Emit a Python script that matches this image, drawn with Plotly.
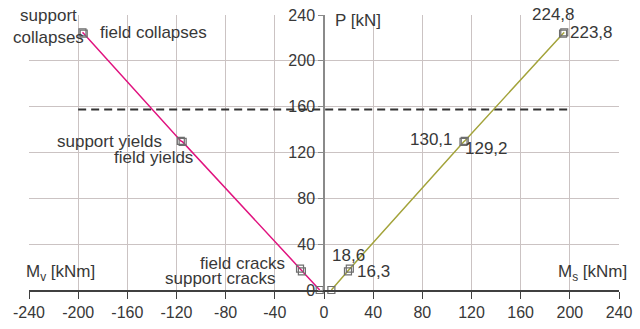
import plotly.graph_objects as go

# ---- data ----
P = [0, 16.3, 18.6, 129.2, 130.1, 223.8, 224.8]          # load [kN]
Mv = [-3.5, -18, -19.5, -115, -116.5, -195.5, -196.5]     # support moment [kNm]
Ms = [6, 19.5, 21, 113.5, 114.5, 194.5, 195.5]            # field moment [kNm]
left_labels = ["", "support cracks", "field cracks", "field yields",
               "support yields", "field collapses", "support<br>collapses"]
right_labels = [("" if p == 0 else f"{p:.1f}".replace(".", ",")) for p in P]
limit_x = [-200, 200]
limit_P = [157.5, 157.5]
x_ticks = [-240, -200, -160, -120, -80, -40, 0, 40, 80, 120, 160, 200, 240]
y_ticks = [0, 40, 80, 120, 160, 200, 240]

# ---- label placement (pixels) ----
left_pos = [None,
            dict(xanchor="right", yanchor="middle", xshift=-24, yshift=-7),
            dict(xanchor="right", yanchor="middle", xshift=-13, yshift=5),
            dict(xanchor="right", yanchor="middle", xshift=12, yshift=-16),
            dict(xanchor="right", yanchor="middle", xshift=-17, yshift=-1),
            dict(xanchor="left", yanchor="middle", xshift=14, yshift=1),
            dict(xanchor="center", yanchor="middle", xshift=-34, yshift=6)]
right_pos = [None,
             dict(xanchor="left", yanchor="middle", xshift=7, yshift=0),
             dict(xanchor="center", yanchor="middle", xshift=-1, yshift=13),
             dict(xanchor="left", yanchor="middle", xshift=-1, yshift=-7),
             dict(xanchor="right", yanchor="middle", xshift=-10, yshift=1.5),
             dict(xanchor="left", yanchor="middle", xshift=5, yshift=1),
             dict(xanchor="center", yanchor="middle", xshift=-11, yshift=18)]

FONT = "Liberation Sans, Arial, sans-serif"
TXT = "#383838"
GRID = "#cbc3c3"
AF = dict(size=17, color=TXT, family=FONT)

fig = go.Figure()
fig.add_trace(go.Scatter(x=limit_x, y=limit_P, mode="lines",
                         line=dict(color="#333333", width=2, dash="8px,5px"),
                         hoverinfo="skip", showlegend=False))
fig.add_trace(go.Scatter(x=Mv, y=P, mode="lines+markers",
                         line=dict(color="#e0137f", width=1.5),
                         marker=dict(symbol="square-open", size=7, color="#6e6e6e",
                                     line=dict(width=1.2)),
                         showlegend=False, cliponaxis=False))
fig.add_trace(go.Scatter(x=Ms, y=P, mode="lines+markers",
                         line=dict(color="#a3a33a", width=1.5),
                         marker=dict(symbol="square-open", size=7, color="#6e6e6e",
                                     line=dict(width=1.2)),
                         showlegend=False, cliponaxis=False))

annotations = []
for xs, labels, pos in ((Mv, left_labels, left_pos), (Ms, right_labels, right_pos)):
    for xv, pv, lab, ps in zip(xs, P, labels, pos):
        if not lab:
            continue
        annotations.append(dict(x=xv, y=pv, xref="x", yref="y", text=lab,
                                showarrow=False, font=AF, **ps))

annotations += [
    dict(x=0, y=240, xref="x", yref="y", text="P [kN]", showarrow=False,
         xanchor="left", yanchor="middle", xshift=9, yshift=-5, font=AF),
    dict(x=-240, y=0, xref="x", yref="y", text="M<sub>v</sub> [kNm]", showarrow=False,
         xanchor="left", yanchor="bottom", xshift=-5, yshift=4, font=AF),
    dict(x=240, y=0, xref="x", yref="y", text="M<sub>s</sub> [kNm]", showarrow=False,
         xanchor="right", yanchor="bottom", xshift=10, yshift=4, font=AF),
]

fig.update_layout(
    width=640, height=329,
    margin=dict(l=29, r=21, t=15, b=39, autoexpand=False),
    paper_bgcolor="white", plot_bgcolor="white",
    font=dict(family=FONT, size=16, color=TXT),
    annotations=annotations,
    xaxis=dict(range=[-240, 240], tickvals=x_ticks, ticktext=[str(v) for v in x_ticks],
               automargin=False,
               showgrid=True, gridcolor=GRID, gridwidth=1.2, zeroline=False,
               showline=True, linecolor="#404040", linewidth=1.5,
               ticks="outside", ticklen=7, tickcolor="#404040", tickwidth=1,
               tickfont=dict(size=16, color=TXT, family=FONT)),
    yaxis=dict(range=[0, 240], tickvals=y_ticks, anchor="free", position=0.5,
               automargin=False,
               showgrid=True, gridcolor=GRID, gridwidth=1.2, zeroline=False,
               showline=True, linecolor="#8a8a8a", linewidth=1.5,
               ticks="outside", ticklen=5, tickcolor="#8a8a8a", tickwidth=1,
               tickfont=dict(size=16, color=TXT, family=FONT)),
)

fig.write_html("out.html", config={"displayModeBar": False},
               post_script="document.body.style.margin='0';document.body.style.overflow='hidden';")
